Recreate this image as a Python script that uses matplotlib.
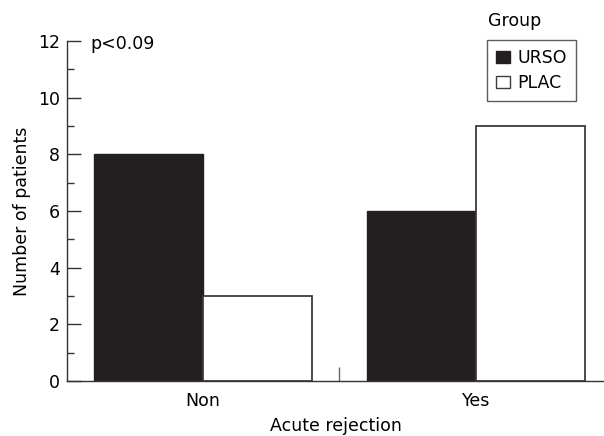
import matplotlib
matplotlib.use("Agg")
import matplotlib.pyplot as plt
from matplotlib.patches import Patch
import numpy as np

categories = ["Non", "Yes"]
groups = ["URSO", "PLAC"]
urso = [8, 6]
plac = [3, 9]
y_ticks = [0, 2, 4, 6, 8, 10, 12]

plt.rcParams['font.family'] = ['DejaVu Sans']
W, H = 604, 436
fig = plt.figure(figsize=(W / 100, H / 100), dpi=100)
ax = fig.add_axes([67 / W, 1 - 381 / H, 1 - 67 / W, (381 - 41) / H])

fs = 12.5
dark = "#231f20"
edge = "#3c3c3c"
x = np.arange(len(categories))
w = 0.4
ax.bar(x - w / 2, urso, w, color=dark, edgecolor=dark, linewidth=1.0, label=groups[0])
ax.bar(x + w / 2, plac, w, color="white", edgecolor=edge, linewidth=1.3, label=groups[1])

ax.set_xlim(-0.498, 1.469)
ax.set_ylim(0, 12)
for s in ["top", "right"]:
    ax.spines[s].set_visible(False)
for s in ["left", "bottom"]:
    ax.spines[s].set_color("#333333")
    ax.spines[s].set_linewidth(1.0)

ax.set_yticks(y_ticks)
ax.set_yticks(np.arange(1, 12, 2), minor=True)
ax.tick_params(axis="y", which="major", direction="in", length=10, width=1, color="#333333",
               labelsize=fs, pad=5)
ax.tick_params(axis="y", which="minor", direction="in", length=5, width=1, color="#333333")

ax.set_xticks(x)
ax.set_xticklabels(categories)
ax.set_xticks([0.5], minor=True)
ax.tick_params(axis="x", which="major", length=0, labelsize=fs, pad=8)
ax.tick_params(axis="x", which="minor", direction="in", length=10, width=1, color="#666666")

ax.set_xlabel("Acute rejection", fontsize=fs, labelpad=5)
ax.set_ylabel("Number of patients", fontsize=fs, labelpad=5)

fig.text(90 / W, 1 - 44 / H, "p<0.09", fontsize=fs, ha="left", va="center")
fig.text(515 / W, 1 - 21 / H, "Group", fontsize=fs, ha="center", va="center")

handles = [Patch(facecolor=dark, edgecolor=dark, label=groups[0]),
           Patch(facecolor="white", edgecolor=edge, linewidth=1.0, label=groups[1])]
leg = fig.legend(handles=handles, loc="upper left", bbox_to_anchor=(487 / W, 1 - 40 / H),
                 bbox_transform=fig.transFigure, borderaxespad=0, fontsize=fs,
                 handlelength=0.8, handleheight=0.7, handletextpad=0.45,
                 borderpad=0.5, labelspacing=0.45, fancybox=False, frameon=True)
leg.get_frame().set_edgecolor("#333333")
leg.get_frame().set_linewidth(1.0)

fig.savefig("out.png", dpi=100)
